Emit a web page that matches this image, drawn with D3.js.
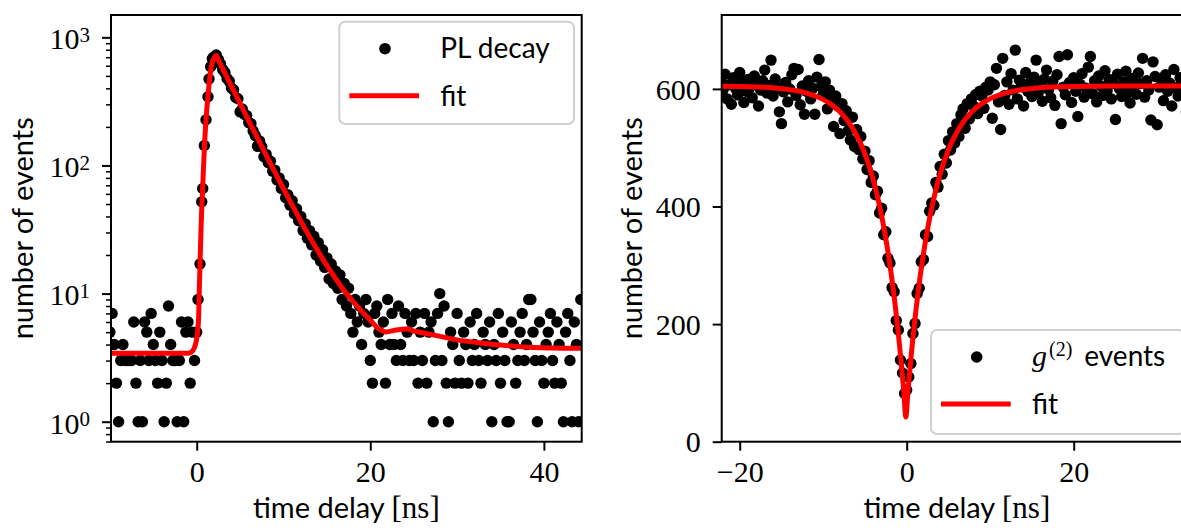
<!DOCTYPE html>
<html>
<head>
<meta charset="utf-8">
<script src="https://cdn.jsdelivr.net/npm/d3@7"></script>
<style>
  body { margin: 0; background: #fff; }
  svg { display: block; }
  .tick-label { font-family: "Liberation Serif", serif; font-size: 30px; fill: #000; }
  .axis-title { font-family: Lato, sans-serif; font-size: 29px; fill: #000; }
  .legend-text { font-family: Lato, sans-serif; font-size: 28px; fill: #000; }
  .unit { font-family: "Liberation Serif", serif; font-size: 31px; }
</style>
</head>
<body>
<svg id="chart" width="1181" height="530"></svg>
<script>
// ---- PL decay histogram (left panel) ----
var binStep = 0.25;
// baseline bins before the pulse, from -10 ns
var plBaseStart = -10;
var plBaseCounts = [5, 7, 4, 2, 1, 3, 4, 3, 3, 3, 3, 6, 2, 1, 3, 1, 6, 5, 3, 7,
                    4, 3, 2, 5, 3, 1, 2, 8, 4, 3, 3, 1, 3, 6, 1, 5, 6, 2, 5, 3];
// rising edge, read point by point
var plRiseTimes = [0.0, 0.15, 0.38, 0.58, 0.69, 0.88, 1.07, 1.30, 1.42, 1.61, 1.8, 1.95, 2.1];
var plRiseCounts = [5, 9, 17, 52, 66, 143, 227, 344, 473, 590, 680, 700, 707];
// decay + tail bins, from 2.25 ns
var plDecayStart = 2.25;
var plDecayCounts = [728, 672, 620, 560, 531, 478, 455, 402, 389, 339, 332, 262, 276, 251, 245, 216, 212, 186, 171, 141,
                     155, 140, 117, 122, 105, 108, 90, 92, 77, 80, 66, 71, 56, 59, 49, 53, 42, 46, 37, 40,
                     31, 35, 27, 31, 24, 28, 20, 25, 18, 22, 16, 19, 13, 17, 12, 15, 11, 14, 9, 12,
                     8, 11, 7, 5, 9, 6, 8, 4, 7, 9, 6, 3,
                     2, 7, 8, 5, 4, 6, 2, 9, 4, 7, 4, 3, 8, 4, 3, 7, 5, 3, 6, 3,
                     7, 2, 5, 3, 7, 2, 5, 6, 1, 3, 7, 10, 3, 8, 2, 1, 5, 4, 2, 7,
                     3, 2, 5, 4, 2, 6, 3, 4, 7, 3, 2, 5, 4, 3, 6, 1, 4, 3, 7, 2,
                     5, 3, 1, 1, 6, 4, 2, 3, 5, 7, 3, 4, 9, 9, 5, 3, 1, 6, 3, 2,
                     4, 5, 7, 3, 2, 6, 4, 2, 1, 5, 7, 3, 1, 6, 4, 1, 9];
// fit of the PL decay
var plFitTimes = [-10, -1, -0.6, -0.1, 0.2, 0.3, 0.38, 0.5, 0.7, 0.9, 1.1, 1.3, 1.5, 1.7, 1.9, 2.1,
                  2.25, 2.5, 3, 4, 5, 6, 7, 8, 9, 10, 11, 12, 13, 14, 15, 16, 17, 18, 19, 20,
                  21, 21.8, 23, 24.2, 25, 27, 30, 33, 35, 38.8, 41, 44.5];
var plFitCounts = [3.42, 3.42, 3.5, 4.1, 6.0, 10.7, 16.7, 32, 70, 145, 240, 350, 480, 600, 670, 710,
                   720, 665, 569, 416, 304.5, 223, 164, 120.4, 88.8, 65.8, 49.0, 36.7, 27.8, 21.3, 16.5, 13.1, 10.5, 8.7, 7.3, 6.2,
                   5.3, 5.02, 5.2, 5.28, 5.1, 4.8, 4.35, 4.1, 3.97, 3.8, 3.76, 3.74];

// ---- g2 histogram (right panel), bins from -22.25 ns ----
var g2Start = -22.25;
var g2Counts = [612, 598, 625, 583, 607, 574, 619, 601, 590, 628, 611, 577, 596, 616, 603, 585, 622, 609, 571, 598,
                614, 632, 593, 606, 649, 588, 617, 602, 561, 541, 595, 611, 578, 600, 624, 635, 589, 633, 573, 605,
                557, 596, 614, 583, 601, 557, 620, 650, 604,
                591, 612, 566, 598, 584, 536, 588, 571, 524, 575, 546, 563, 529, 513, 552, 502, 531, 497, 519, 481,
                494, 463, 478, 441, 452, 420, 426, 389, 397, 352, 357, 312, 304, 262, 255, 206, 190, 139, 117, 82,
                88, 110, 133, 184, 201, 252, 261, 306, 310, 352, 349, 392, 406, 402, 441, 433, 468, 455, 489, 474,
                512, 496, 527, 508, 541, 519, 556, 566, 533, 575, 549, 583, 571, 590, 558, 596, 588, 567, 603, 598, 612,
                550, 607, 635, 578, 531, 652, 589, 612, 574, 626, 598, 666, 583, 615, 604, 571, 628, 596, 611, 587,
                620, 649, 593, 606, 579, 617, 632, 599, 585, 613, 572, 624, 655, 541, 603, 590, 658, 611, 577, 619,
                596, 553, 608, 626, 586, 601, 637, 655, 592, 614, 578, 622, 605, 589, 631, 597, 616, 583, 609, 548,
                625, 600, 587, 612, 630, 594, 576, 618, 605, 591, 627, 609, 652, 586, 614, 598, 547, 646, 621, 539,
                603, 617, 580, 624, 596, 610, 571, 633, 602, 588, 619, 593, 615, 561, 607, 628, 590];
// fit of the g2 dip
var g2FitTimes = [-22.2, -20.1, -17.1, -15.1, -12.1, -10.1, -9.1, -8.1, -7.1, -6.1, -5.1, -4.1, -3.6, -3.1, -2.6,
                  -2.1, -1.6, -1.1, -0.85, -0.6, -0.35, -0.1, 0.15, 0.4, 0.65, 0.9, 1.4, 1.9, 2.4, 2.9,
                  3.4, 3.9, 4.9, 5.9, 6.9, 7.9, 8.9, 9.9, 11.9, 14.9, 16.9, 19.9, 24.9, 34.5];
var g2FitCounts = [604.5, 604.1, 602.7, 600.5, 593.3, 582.6, 574.1, 562.4, 546.1, 523.7, 492.8, 450.1, 422.9, 391.1, 353.7,
                   309.6, 258, 197.2, 162.9, 125.9, 85.6, 42, 85.6, 125.9, 162.9, 197.2, 258, 309.6, 353.7, 391.1,
                   422.9, 450.1, 492.8, 523.7, 546.1, 562.4, 574.1, 582.6, 593.3, 600.5, 602.7, 604.1, 604.8, 605];

// tick values
var plTicksX = [0, 20, 40];
var plTicksY = [1, 10, 100, 1000];
var g2TicksX = [-20, 0, 20];
var g2TicksY = [0, 200, 400, 600];

// ---- build point lists ----
var plPoints = [];
plBaseCounts.forEach(function (c, i) { plPoints.push({ t: plBaseStart + i * binStep, n: c }); });
plRiseTimes.forEach(function (t, i) { plPoints.push({ t: t, n: plRiseCounts[i] }); });
plDecayCounts.forEach(function (c, i) { plPoints.push({ t: plDecayStart + i * binStep, n: c }); });
var plFit = plFitTimes.map(function (t, i) { return { t: t, n: plFitCounts[i] }; });

var g2Points = g2Counts.map(function (c, i) { return { t: g2Start + i * binStep, n: c }; });
var g2Fit = g2FitTimes.map(function (t, i) { return { t: t, n: g2FitCounts[i] }; });

var svg = d3.select("#chart");
var top_ = 15, bottom_ = 441.7;

// scales
var plX = d3.scaleLinear().domain([-9.873, 44.355]).range([111, 581.7]);
var plY = d3.scaleLog().domain([0.698, 1494]).range([bottom_, top_]);
var g2X = d3.scaleLinear().domain([-22.156, 34.17]).range([721.7, 1192]);
var g2Y = d3.scaleLinear().domain([0, 725.7]).range([bottom_, top_]);

function styleAxis(g, size) {
  g.attr("font-size", null).attr("font-family", null);
  g.select(".domain").remove();
  g.selectAll(".tick line").attr("stroke", "#000").attr("stroke-width", size || 2);
  g.selectAll(".tick text").attr("class", "tick-label");
}

function drawPanel(id, x, y, points, fit) {
  var x0 = x.range()[0], x1 = x.range()[1];
  svg.append("clipPath").attr("id", "clip-" + id)
    .append("rect").attr("x", x0).attr("y", top_).attr("width", x1 - x0).attr("height", bottom_ - top_);

  var plot = svg.append("g").attr("clip-path", "url(#clip-" + id + ")");

  // data points
  plot.selectAll("circle")
    .data(points)
    .enter()
    .append("circle")
    .attr("cx", d => x(d.t))
    .attr("cy", d => y(d.n))
    .attr("r", 5.7)
    .attr("fill", "#000");

  // fit line
  var line = d3.line().x(d => x(d.t)).y(d => y(d.n)).curve(d3.curveMonotoneX);
  plot.append("path")
    .datum(fit)
    .attr("d", line)
    .attr("fill", "none")
    .attr("stroke", "#ff0000")
    .attr("stroke-width", 5)
    .attr("stroke-linejoin", "round");

  // frame
  svg.append("rect")
    .attr("x", x0).attr("y", top_)
    .attr("width", x1 - x0).attr("height", bottom_ - top_)
    .attr("fill", "none").attr("stroke", "#000").attr("stroke-width", 2);
}

function drawLegend(xRight, yTop, width, height, label) {
  var g = svg.append("g");
  var lx = xRight - width;
  g.append("rect")
    .attr("x", lx).attr("y", yTop).attr("width", width).attr("height", height)
    .attr("rx", 6)
    .attr("fill", "#fff").attr("fill-opacity", 0.8)
    .attr("stroke", "#d0d0d0").attr("stroke-width", 2);
  g.append("circle").attr("cx", lx + 45.7).attr("cy", yTop + 27).attr("r", 5.8).attr("fill", "#000");
  g.append("line")
    .attr("x1", lx + 10).attr("x2", lx + 79.7)
    .attr("y1", yTop + 74).attr("y2", yTop + 74)
    .attr("stroke", "#ff0000").attr("stroke-width", 5);
  var t1 = g.append("text").attr("class", "legend-text").attr("x", lx + 101).attr("y", yTop + 36);
  label(t1);
  g.append("text").attr("class", "legend-text").attr("x", lx + 101).attr("y", yTop + 84).text("fit");
}

function xTitle(cx) {
  var t = svg.append("text").attr("class", "axis-title")
    .attr("x", cx).attr("y", 518.3).attr("text-anchor", "middle");
  t.append("tspan").text("time delay ");
  t.append("tspan").attr("class", "unit").text("[ns]");
}

function yTitle(bx) {
  svg.append("text").attr("class", "axis-title")
    .attr("transform", `translate(${bx}, 228.3) rotate(-90)`)
    .attr("text-anchor", "middle")
    .text("number of events");
}

// ---- left panel ----
drawPanel("pl", plX, plY, plPoints, plFit);

var axBL = svg.append("g").attr("transform", `translate(0, ${bottom_})`)
  .call(d3.axisBottom(plX).tickValues(plTicksX).tickSize(9).tickPadding(10));
styleAxis(axBL);

var plMinor = [];
[0.1, 1, 10, 100].forEach(function (dec) {
  for (var k = 2; k <= 9; k++) {
    var v = dec * k;
    if (v >= plY.domain()[0] && v <= plY.domain()[1]) plMinor.push(v);
  }
});
var axMinor = svg.append("g").attr("transform", "translate(111, 0)")
  .call(d3.axisLeft(plY).tickValues(plMinor).tickSize(5).tickFormat(""));
styleAxis(axMinor, 1.5);

var axLL = svg.append("g").attr("transform", "translate(111, 0)")
  .call(d3.axisLeft(plY).tickValues(plTicksY).tickSize(9).tickPadding(12));
styleAxis(axLL);
axLL.selectAll(".tick text").each(function (d) {
  var t = d3.select(this).text("10").attr("dy", "0.38em");
  t.append("tspan").attr("dy", "-0.36em").style("font-size", "21px").text(Math.round(Math.log10(d)));
});

yTitle(33);
xTitle((111 + 581.7) / 2);
drawLegend(574, 21.7, 234.7, 102.3, function (t) { t.text("PL decay"); });

// ---- right panel ----
drawPanel("g2", g2X, g2Y, g2Points, g2Fit);

var axBR = svg.append("g").attr("transform", `translate(0, ${bottom_})`)
  .call(d3.axisBottom(g2X).tickValues(g2TicksX).tickSize(9).tickPadding(10));
styleAxis(axBR);

var axLR = svg.append("g").attr("transform", "translate(721.7, 0)")
  .call(d3.axisLeft(g2Y).tickValues(g2TicksY).tickSize(9).tickPadding(12));
styleAxis(axLR);
axLR.selectAll(".tick text").attr("dy", "0.34em");

yTitle(642);
xTitle((721.7 + 1192) / 2);
drawLegend(1184.3, 330, 253.3, 104, function (t) {
  t.append("tspan").style("font-family", "'Liberation Serif', serif").style("font-style", "italic")
    .style("font-size", "30px").text("g");
  t.append("tspan").style("font-family", "'Liberation Serif', serif").style("font-size", "20px")
    .attr("dx", 2).attr("dy", -10).text("(2)");
  t.append("tspan").attr("dx", 12).attr("dy", 10).text("events");
});
</script>
</body>
</html>
